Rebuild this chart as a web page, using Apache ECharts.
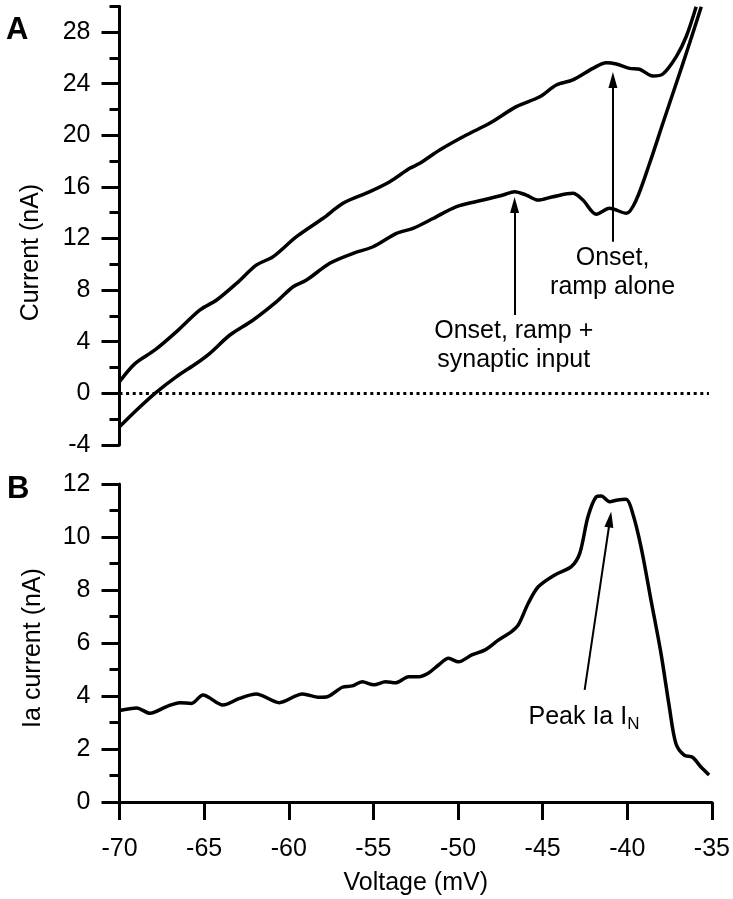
<!DOCTYPE html>
<html><head><meta charset="utf-8">
<script src="https://cdn.jsdelivr.net/npm/echarts@6/dist/echarts.min.js"></script>
<style>html,body{margin:0;padding:0;background:#fff}#c{width:733px;height:899px}</style>
</head><body><div id="c"></div>
<script>
// Panel A: ramp alone (upper trace)
const rampAloneV = [-70, -69.09, -67.91, -66.64, -65.26, -64.28, -63.1, -61.93, -60.95, -59.58, -58.01, -56.84, -55.26, -54.09, -52.91, -52.32, -51.15, -49.58, -48.21, -46.64, -45.26, -44.28, -43.31, -42.13, -41.34, -40.75, -39.97, -39.38, -38.6, -38.01, -37.22, -36.64, -36.05];
const rampAloneI = [0.9, 2.3, 3.36, 4.78, 6.46, 7.23, 8.53, 9.95, 10.59, 12.14, 13.57, 14.73, 15.63, 16.4, 17.44, 17.83, 18.86, 20.02, 20.93, 22.22, 22.99, 23.9, 24.29, 25.19, 25.63, 25.53, 25.19, 25.12, 24.6, 24.75, 26.1, 27.64, 29.97];
// Panel A: ramp + synaptic input (lower trace)
const rampSynV = [-70, -68.99, -67.91, -66.64, -65.46, -64.68, -63.5, -62.13, -60.75, -59.78, -58.99, -57.62, -56.25, -55.07, -53.69, -52.72, -51.54, -50.16, -48.6, -47.42, -46.74, -46.05, -45.36, -44.48, -43.31, -42.72, -41.93, -41.15, -40.16, -39.58, -38.79, -38.01, -37.22, -36.44, -35.75];
const rampSynI = [-2.59, -1.29, 0, 1.29, 2.33, 3.1, 4.52, 5.68, 7.1, 8.26, 8.78, 10.08, 10.85, 11.36, 12.4, 12.79, 13.55, 14.47, 14.98, 15.37, 15.63, 15.37, 14.98, 15.24, 15.5, 14.98, 13.88, 14.34, 13.95, 14.98, 17.83, 20.93, 24.03, 27.13, 29.97];
// Panel B: Ia current
const iaV = [-70, -68.99, -68.2, -67.22, -66.44, -65.75, -65.07, -63.89, -62.91, -61.93, -60.56, -59.19, -58.2, -57.72, -56.84, -56.25, -55.66, -54.97, -54.28, -53.69, -52.91, -52.32, -51.74, -51.15, -50.56, -49.97, -49.19, -48.4, -47.62, -46.84, -46.44, -45.85, -45.26, -44.28, -43.31, -42.81, -42.32, -41.83, -41.54, -41.05, -40.56, -40.07, -39.68, -39.19, -38.6, -38.01, -37.52, -37.13, -36.64, -36.15, -35.66, -35.17];
const iaI = [3.45, 3.55, 3.35, 3.6, 3.75, 3.72, 4.04, 3.66, 3.91, 4.08, 3.75, 4.08, 3.95, 3.97, 4.33, 4.38, 4.54, 4.42, 4.54, 4.5, 4.73, 4.73, 4.87, 5.17, 5.42, 5.29, 5.55, 5.74, 6.11, 6.43, 6.68, 7.5, 8.12, 8.57, 8.88, 9.38, 10.77, 11.52, 11.55, 11.33, 11.4, 11.42, 10.89, 9.63, 7.62, 5.61, 3.6, 2.21, 1.77, 1.69, 1.33, 1.02];
// tick values
const currentTicksA = [-4, 0, 4, 8, 12, 16, 20, 24, 28];
const currentMinorA = [-4, -2, 0, 2, 4, 6, 8, 10, 12, 14, 16, 18, 20, 22, 24, 26, 28, 30];
// annotations (data coordinates)
const arrowRampAlone = [[-40.95, 11.75], [-40.95, 24.29]];
const arrowRampSyn = [[-46.74, 6.07], [-46.74, 14.6]];
const arrowPeak = [[-42.52, 4.23], [-41.02, 10.66]];
const zeroLine = [[-70, 0], [-35.3, 0]];
const labelRampAlone = [-40.97, 9.36];
const labelRampSyn = [-46.79, 3.67];
const labelPeak = [-42.56, 3.21];

const zip = (a, b) => a.map((v, i) => [v, b[i]]);
const FONT = "'Liberation Sans', Arial, Helvetica, sans-serif";
const txt = {fontFamily: FONT, fontSize: 25, color: '#000'};
const blk = {color: '#000', width: 3};
const arrowLine = (pts) => [{coord: pts[0], symbol: 'none'}, {coord: pts[1], symbol: 'triangle', symbolSize: [9, 16]}];

const chart = echarts.init(document.getElementById('c'), null, {renderer: 'canvas'});
chart.setOption({
  animation: false,
  backgroundColor: '#fff',
  textStyle: {fontFamily: FONT},
  grid: [
    {left: 119.5, right: 19, top: 6.3, height: 438.6},
    {left: 119.5, right: 19, top: 484, height: 318}
  ],
  xAxis: [
    {gridIndex: 0, type: 'value', min: -70, max: -35, show: false},
    {gridIndex: 1, type: 'value', min: -70, max: -35, interval: 5, offset: 5,
     axisLine: {lineStyle: blk}, axisTick: {length: 18, lineStyle: blk},
     axisLabel: Object.assign({margin: 30}, txt), splitLine: {show: false},
     name: 'Voltage (mV)', nameLocation: 'middle', nameGap: 64, nameTextStyle: txt}
  ],
  yAxis: [
    {gridIndex: 0, type: 'value', position: 'left', min: -4, max: 30, interval: 4,
     axisLine: {show: true, lineStyle: blk},
     axisTick: {show: true, length: 18, lineStyle: blk, customValues: currentTicksA},
     axisLabel: Object.assign({margin: 29, customValues: currentTicksA}, txt),
     splitLine: {show: false},
     name: 'Current (nA)', nameLocation: 'middle', nameGap: 76, nameRotate: 90,
     nameTextStyle: Object.assign({padding: [0, 54, 0, 0]}, txt)},
    {gridIndex: 0, type: 'value', position: 'left', offset: 0, min: -4, max: 30, interval: 2,
     axisLine: {show: false}, axisLabel: {show: false}, splitLine: {show: false},
     axisTick: {show: true, length: 10, lineStyle: blk, customValues: currentMinorA}},
    {gridIndex: 1, type: 'value', position: 'left', min: 0, max: 12, interval: 2,
     axisLine: {show: true, lineStyle: blk},
     axisTick: {show: true, length: 18, lineStyle: blk},
     minorTick: {show: true, splitNumber: 2, length: 10, lineStyle: blk},
     axisLabel: Object.assign({margin: 29}, txt), splitLine: {show: false},
     name: 'Ia current (nA)', nameLocation: 'middle', nameGap: 74, nameRotate: 90,
     nameTextStyle: Object.assign({padding: [0, 10, 0, 0]}, txt)}
  ],
  series: [
    {type: 'line', name: 'Ramp alone', xAxisIndex: 0, yAxisIndex: 0, data: zip(rampAloneV, rampAloneI),
     showSymbol: false, smooth: 0.3, lineStyle: {color: '#000', width: 3.5}, itemStyle: {color: '#000'},
     markLine: {silent: true, symbol: 'none', lineStyle: {color: '#000', width: 2, type: 'solid'}, label: {show: false},
       data: [arrowLine(arrowRampAlone)]},
     markPoint: {silent: true, symbolSize: 0, data: [{coord: labelRampAlone,
       label: Object.assign({show: true, position: 'inside', formatter: 'Onset,\nramp alone', lineHeight: 29, align: 'center'}, txt)}]}},
    {type: 'line', name: 'Ramp + synaptic input', xAxisIndex: 0, yAxisIndex: 0, data: zip(rampSynV, rampSynI),
     showSymbol: false, smooth: 0.3, lineStyle: {color: '#000', width: 3.5}, itemStyle: {color: '#000'},
     markLine: {silent: true, symbol: 'none', label: {show: false},
       data: [
         [{coord: zeroLine[0], symbol: 'none', lineStyle: {color: '#000', width: 3, type: [3, 3.6]}}, {coord: zeroLine[1], symbol: 'none'}],
         [{coord: arrowRampSyn[0], symbol: 'none', lineStyle: {color: '#000', width: 2, type: 'solid'}}, {coord: arrowRampSyn[1], symbol: 'triangle', symbolSize: [9, 16]}]
       ]},
     markPoint: {silent: true, symbolSize: 0, data: [{coord: labelRampSyn,
       label: Object.assign({show: true, position: 'inside', formatter: 'Onset, ramp +\nsynaptic input', lineHeight: 29, align: 'center'}, txt)}]}},
    {type: 'line', name: 'Ia current', xAxisIndex: 1, yAxisIndex: 2, data: zip(iaV, iaI),
     showSymbol: false, smooth: 0.3, lineStyle: {color: '#000', width: 3.5}, itemStyle: {color: '#000'},
     markLine: {silent: true, symbol: 'none', lineStyle: {color: '#000', width: 2, type: 'solid'}, label: {show: false},
       data: [arrowLine(arrowPeak)]},
     markPoint: {silent: true, symbolSize: 0, data: [{coord: labelPeak,
       label: Object.assign({show: true, position: 'inside', formatter: 'Peak Ia I{sub|N}',
         rich: {sub: {fontFamily: FONT, fontSize: 17, color: '#000', padding: [14, 0, 0, 0]}}}, txt)}]}}
  ],
  graphic: [
    {type: 'text', left: 6, top: 15, style: {text: 'A', font: "bold 31px " + FONT, fill: '#000'}},
    {type: 'text', left: 7, top: 474, style: {text: 'B', font: "bold 31px " + FONT, fill: '#000'}}
  ]
});
</script>
</body></html>
